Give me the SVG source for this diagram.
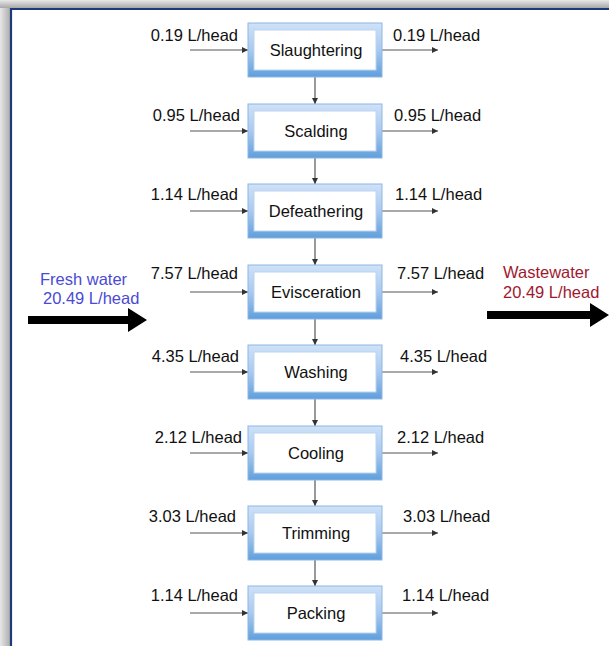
<svg xmlns="http://www.w3.org/2000/svg" width="609" height="646" viewBox="0 0 609 646">
<defs>
<linearGradient id="boxg" x1="0" y1="0" x2="0" y2="1">
<stop offset="0" stop-color="#cfe2f7"/>
<stop offset="0.5" stop-color="#a9c9ef"/>
<stop offset="1" stop-color="#5f9fdc"/>
</linearGradient>
<linearGradient id="shL" x1="0" y1="0" x2="1" y2="0">
<stop offset="0" stop-color="#e8e8e8"/>
<stop offset="1" stop-color="#a8a8a8"/>
</linearGradient>
<linearGradient id="shT" x1="0" y1="0" x2="0" y2="1">
<stop offset="0" stop-color="#e8e8e8"/>
<stop offset="1" stop-color="#a8a8a8"/>
</linearGradient>
<marker id="ah" viewBox="0 0 8 8" refX="8" refY="4" markerWidth="6" markerHeight="6" markerUnits="userSpaceOnUse" orient="auto">
<path d="M0,0 L8,4 L0,8 z" fill="#333"/>
</marker>
</defs>
<style>
.box{fill:url(#boxg);stroke:#8db6e6;stroke-width:1}
.inner{fill:#fff;stroke:#b9d3f2;stroke-width:1}
.t{font-family:"Liberation Sans",Arial,sans-serif;font-size:16.5px;fill:#111}
.c{text-anchor:middle}
.r{text-anchor:end}
.ln{stroke:#555;stroke-width:1.2;fill:none;marker-end:url(#ah)}
.big{fill:#000}
</style>
<rect width="609" height="646" fill="#fff"/>
<g id="frame">
<rect x="0" y="0" width="11" height="646" fill="url(#shL)"/>
<rect x="0" y="0" width="609" height="8" fill="url(#shT)"/>
<path d="M11,646 V9 H609" fill="none" stroke="#1f3a78" stroke-width="2.2"/>
</g>
<g id="connectors">
<line class="ln" x1="190" y1="50" x2="248" y2="50"/>
<line class="ln" x1="382" y1="50" x2="438" y2="50"/>
<line class="ln" x1="190" y1="131" x2="248" y2="131"/>
<line class="ln" x1="382" y1="131" x2="438" y2="131"/>
<line class="ln" x1="190" y1="211" x2="248" y2="211"/>
<line class="ln" x1="382" y1="211" x2="438" y2="211"/>
<line class="ln" x1="190" y1="292" x2="248" y2="292"/>
<line class="ln" x1="382" y1="292" x2="438" y2="292"/>
<line class="ln" x1="190" y1="372" x2="248" y2="372"/>
<line class="ln" x1="382" y1="372" x2="438" y2="372"/>
<line class="ln" x1="190" y1="453" x2="248" y2="453"/>
<line class="ln" x1="382" y1="453" x2="438" y2="453"/>
<line class="ln" x1="190" y1="533" x2="248" y2="533"/>
<line class="ln" x1="382" y1="533" x2="438" y2="533"/>
<line class="ln" x1="190" y1="613" x2="248" y2="613"/>
<line class="ln" x1="382" y1="613" x2="438" y2="613"/>
<line class="ln" x1="315" y1="77" x2="315" y2="104"/>
<line class="ln" x1="315" y1="158" x2="315" y2="184"/>
<line class="ln" x1="315" y1="238" x2="315" y2="265"/>
<line class="ln" x1="315" y1="319" x2="315" y2="345"/>
<line class="ln" x1="315" y1="399" x2="315" y2="426"/>
<line class="ln" x1="315" y1="480" x2="315" y2="506"/>
<line class="ln" x1="315" y1="560" x2="315" y2="586"/>
<path class="big" d="M28,316 H128 V308 L147,320 L128,332 V324 H28 z"/>
<path class="big" d="M487,311 H590 V303 L609,315 L590,327 V319 H487 z"/>
</g>
<g id="slaughtering"><rect class="box" x="248" y="23" width="134" height="54"/><rect class="inner" x="254" y="30" width="122" height="40"/><text class="t c" x="316" y="56">Slaughtering</text></g>
<g id="scalding"><rect class="box" x="248" y="104" width="134" height="54"/><rect class="inner" x="254" y="111" width="122" height="40"/><text class="t c" x="316" y="137">Scalding</text></g>
<g id="defeathering"><rect class="box" x="248" y="184" width="134" height="54"/><rect class="inner" x="254" y="191" width="122" height="40"/><text class="t c" x="316" y="217">Defeathering</text></g>
<g id="evisceration"><rect class="box" x="248" y="265" width="134" height="54"/><rect class="inner" x="254" y="272" width="122" height="40"/><text class="t c" x="316" y="298">Evisceration</text></g>
<g id="washing"><rect class="box" x="248" y="345" width="134" height="54"/><rect class="inner" x="254" y="352" width="122" height="40"/><text class="t c" x="316" y="378">Washing</text></g>
<g id="cooling"><rect class="box" x="248" y="426" width="134" height="54"/><rect class="inner" x="254" y="433" width="122" height="40"/><text class="t c" x="316" y="459">Cooling</text></g>
<g id="trimming"><rect class="box" x="248" y="506" width="134" height="54"/><rect class="inner" x="254" y="513" width="122" height="40"/><text class="t c" x="316" y="539">Trimming</text></g>
<g id="packing"><rect class="box" x="248" y="586" width="134" height="54"/><rect class="inner" x="254" y="593" width="122" height="40"/><text class="t c" x="316" y="619">Packing</text></g>
<g id="labels">
<text class="t r" x="238" y="41">0.19 L/head</text>
<text class="t" x="393" y="41">0.19 L/head</text>
<text class="t r" x="240" y="121">0.95 L/head</text>
<text class="t" x="394" y="121">0.95 L/head</text>
<text class="t r" x="238" y="200">1.14 L/head</text>
<text class="t" x="395" y="200">1.14 L/head</text>
<text class="t r" x="238" y="279">7.57 L/head</text>
<text class="t" x="397" y="279">7.57 L/head</text>
<text class="t r" x="239" y="362">4.35 L/head</text>
<text class="t" x="400" y="362">4.35 L/head</text>
<text class="t r" x="242" y="443">2.12 L/head</text>
<text class="t" x="397" y="443">2.12 L/head</text>
<text class="t r" x="236" y="522">3.03 L/head</text>
<text class="t" x="403" y="522">3.03 L/head</text>
<text class="t r" x="238" y="601">1.14 L/head</text>
<text class="t" x="402" y="601">1.14 L/head</text>
</g>
<g id="freshwater">
<text class="t" x="40" y="285" style="fill:#4a4ad6">Fresh water</text>
<text class="t" x="43" y="304" style="fill:#4a4ad6">20.49 L/head</text>
</g>
<g id="wastewater">
<text class="t" x="503" y="278" style="fill:#a01830">Wastewater</text>
<text class="t" x="503" y="298" style="fill:#a01830">20.49 L/head</text>
</g>
</svg>
